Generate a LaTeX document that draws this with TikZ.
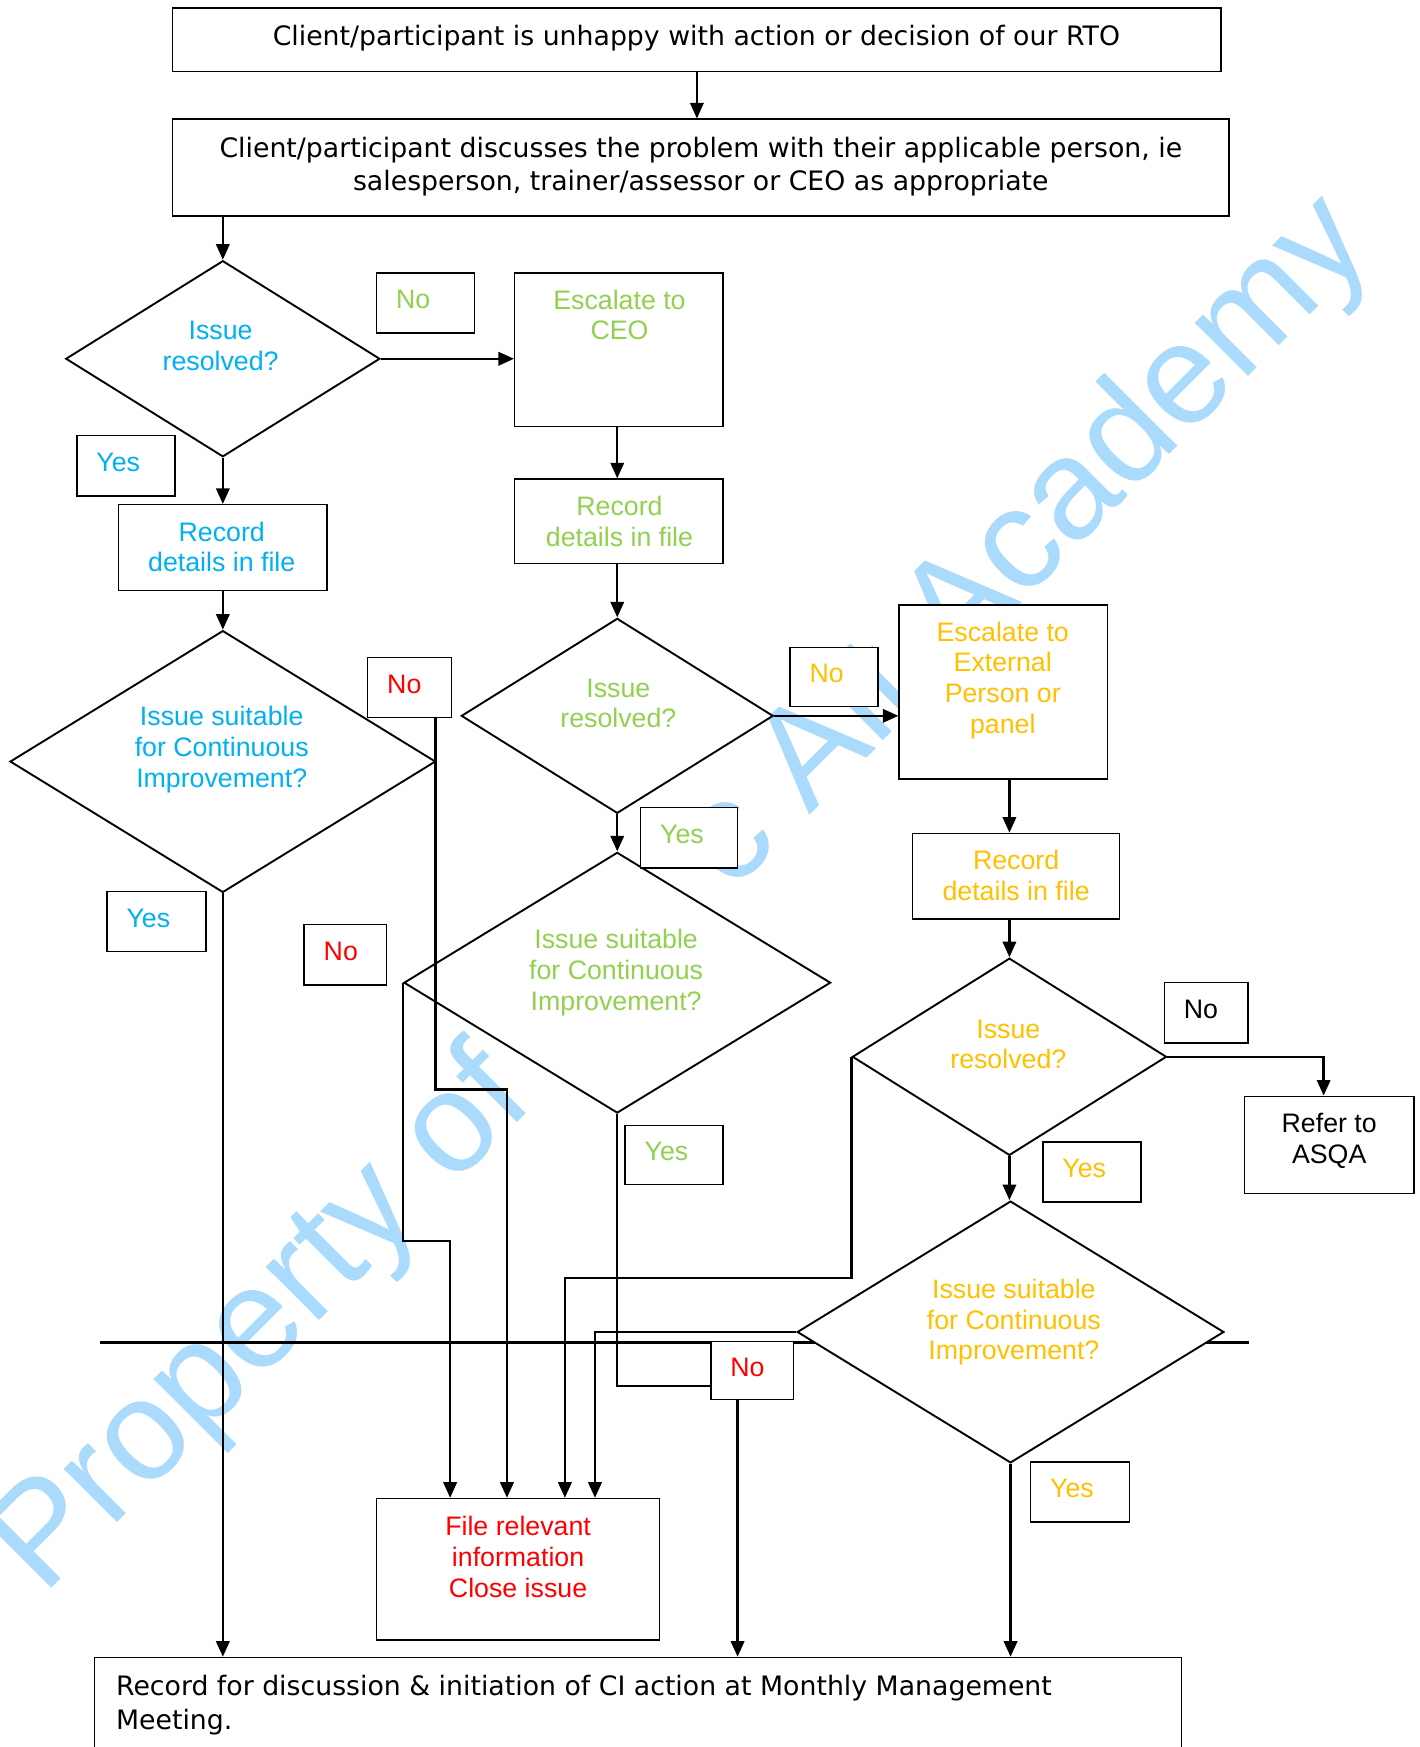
\documentclass[tikz,border=0pt]{standalone}
\usepackage{fontspec}
\usetikzlibrary{shapes.geometric,arrows.meta,calc}
\newfontfamily\verd{DejaVu Sans}
\newfontfamily\ari{Liberation Sans}
\definecolor{cblue}{RGB}{0,176,240}
\definecolor{cgreen}{RGB}{146,208,80}
\definecolor{corange}{RGB}{255,192,0}
\definecolor{cred}{RGB}{255,0,0}
\definecolor{wmc}{RGB}{170,218,252}
\newcommand\bfnt{\verd\fontsize{24}{30}\selectfont}
\newcommand\cfnt{\ari\fontsize{24}{27.5}\selectfont}
\tikzset{
 box/.style={draw=black, line width=1.3pt, fill=white, inner sep=0pt},
 dia/.style={diamond, aspect=1, draw=black, line width=1.7pt, fill=white, inner sep=0pt},
 conn/.style={line width=2.2pt, -{Triangle[width=12pt,length=14pt]}},
 plainc/.style={line width=2.2pt},
 bt/.style={font=\bfnt, inner sep=0pt, align=center, text=black},
 ct/.style={font=\cfnt, inner sep=0pt, align=center},
 lt/.style={font=\cfnt, inner sep=0pt, anchor=west},
 wmk/.style={font=\ari\fontsize{128}{128}\selectfont, text=wmc, inner sep=0pt, anchor=base west, rotate=45},
}
\begin{document}
\begin{tikzpicture}[x=1pt,y=-1pt]
\useasboundingbox (0,0) rectangle (1274,1568);
\clip (0,0) rectangle (1274,1568);
\fill[white] (0,0) rectangle (1274,1568);
% watermark
\node[wmk] (wm1) at (38.7,1433) {Property of};
\node[wmk] (wm2) at (656,802) {c Alt Academy};
% stray line
\draw[line width=2pt] (90,1205) -- (1121,1205);
% boxes
\node[box, minimum width=941pt, minimum height=57pt] (a) at (625.5,35.5) {};
\node[bt, anchor=north] (at) at (625,22.5) {Client/participant is unhappy with action or decision of our RTO};
\node[box, minimum width=948pt, minimum height=87pt] (b) at (629,150.5) {};
\node[bt, anchor=north] (bt) at (629,122.5) {Client/participant discusses the problem with their applicable person, ie\\salesperson, trainer/assessor or CEO as appropriate};
% column 1
\node[dia, minimum width=282pt, minimum height=176pt] (d1) at (200,322) {};
\node[ct, anchor=north, text=cblue] (d1t) at (198,288) {Issue\\resolved?};
\node[box, minimum width=187pt, minimum height=77pt] (r1) at (200,491.5) {};
\node[ct, anchor=north, text=cblue] (r1t) at (199,468) {Record\\details in file};
\node[dia, minimum width=382pt, minimum height=235pt] (d2) at (200,683.5) {};
\node[ct, anchor=north, text=cblue] (d2t) at (199,634) {Issue suitable\\for Continuous\\Improvement?};
% column 2
\node[box, minimum width=187pt, minimum height=138pt] (ceo) at (555.5,314) {};
\node[ct, anchor=north, text=cgreen] (ceot) at (556,260) {Escalate to\\CEO};
\node[box, minimum width=187pt, minimum height=76pt] (r2) at (555.5,468) {};
\node[ct, anchor=north, text=cgreen] (r2t) at (556,445) {Record\\details in file};
\node[dia, minimum width=280pt, minimum height=175pt] (d3) at (554,642.5) {};
\node[ct, anchor=north, text=cgreen] (d3t) at (555,609) {Issue\\resolved?};
\node[dia, minimum width=383pt, minimum height=234pt] (d4) at (554,882) {};
\node[ct, anchor=north, text=cgreen] (d4t) at (553,834) {Issue suitable\\for Continuous\\Improvement?};
% column 3
\node[box, minimum width=187pt, minimum height=156pt] (ext) at (900.5,621) {};
\node[ct, anchor=north, text=corange] (extt) at (900,558) {Escalate to\\External\\Person or\\panel};
\node[box, minimum width=186pt, minimum height=77pt] (r3) at (912,786.5) {};
\node[ct, anchor=north, text=corange] (r3t) at (912,763) {Record\\details in file};
\node[dia, minimum width=282pt, minimum height=177pt] (d5) at (906,948.5) {};
\node[ct, anchor=north, text=corange] (d5t) at (905,915) {Issue\\resolved?};
\node[box, minimum width=152pt, minimum height=87pt] (asqa) at (1193,1027.5) {};
\node[ct, anchor=north, text=black] (asqat) at (1193,999) {Refer to\\ASQA};
\node[dia, minimum width=383pt, minimum height=235pt] (d6) at (907,1195.5) {};
\node[ct, anchor=north, text=corange] (d6t) at (910,1148) {Issue suitable\\for Continuous\\Improvement?};
% end boxes
\node[box, minimum width=254pt, minimum height=127pt] (file) at (465,1408.5) {};
\node[ct, anchor=north, text=cred] (filet) at (465,1361) {File relevant\\information\\Close issue};
\node[box, minimum width=976pt, minimum height=113pt, anchor=north west] (bot) at (84,1487) {};
\node[bt, anchor=north west, align=left] (bott) at (104,1503.5) {Record for discussion \& initiation of CI action at Monthly Management\\Meeting.};
% labels
\node[box, minimum width=88pt, minimum height=54pt] (no1) at (382,272) {};
\node[lt, text=cgreen] (no1t) at ($(no1.west)+(18,-3)$) {No};
\node[box, minimum width=88pt, minimum height=54pt] (yes1) at (113,418) {};
\node[lt, text=cblue] (yes1t) at ($(yes1.west)+(18,-3)$) {Yes};
\node[box, minimum width=75pt, minimum height=54pt] (no2) at (367.5,617) {};
\node[lt, text=cred] (no2t) at ($(no2.west)+(18,-3)$) {No};
\node[box, minimum width=89pt, minimum height=54pt] (yes2) at (140.5,827) {};
\node[lt, text=cblue] (yes2t) at ($(yes2.west)+(18,-3)$) {Yes};
\node[box, minimum width=79pt, minimum height=53pt] (no3) at (748.5,607.5) {};
\node[lt, text=corange] (no3t) at ($(no3.west)+(18,-3)$) {No};
\node[box, minimum width=87pt, minimum height=54pt] (yes3) at (618.5,752) {};
\node[lt, text=cgreen] (yes3t) at ($(yes3.west)+(18,-3)$) {Yes};
\node[box, minimum width=74pt, minimum height=54pt] (no4) at (310,857) {};
\node[lt, text=cred] (no4t) at ($(no4.west)+(18,-3)$) {No};
\node[box, minimum width=88pt, minimum height=53pt] (yes4) at (605,1036.5) {};
\node[lt, text=cgreen] (yes4t) at ($(yes4.west)+(18,-3)$) {Yes};
\node[box, minimum width=75pt, minimum height=54pt] (no5) at (1082.5,909) {};
\node[lt, text=black] (no5t) at ($(no5.west)+(18,-3)$) {No};
\node[box, minimum width=88pt, minimum height=54pt] (yes5) at (980,1052) {};
\node[lt, text=corange] (yes5t) at ($(yes5.west)+(18,-3)$) {Yes};
\node[box, minimum width=89pt, minimum height=54pt] (yes6) at (969.5,1339) {};
\node[lt, text=corange] (yes6t) at ($(yes6.west)+(18,-3)$) {Yes};
\node[box, minimum width=74pt, minimum height=52pt] (no6) at (675,1230) {};
\node[lt, text=cred] (no6t) at ($(no6.west)+(18,-3)$) {No};
% junction coordinates
\coordinate (j1) at (455,978);
\coordinate (j2) at (404,1114);
\coordinate (j3) at (554,1244);
\coordinate (j4) at (507,1147);
\coordinate (j5) at (534,1195.5);
\coordinate (j6) at (662,1256);
\coordinate (j7) at (1188,948.5);
\coordinate (j8) at (906,699);
\coordinate (j9) at (906,825);
\coordinate (j10) at (391,644);
% connectors
\draw[conn] (a.south) -- (a.south |- b.north);
\draw[conn] (d1.north |- b.south) -- (d1.north);
\draw[conn] (d1.east) -- (d1.east -| ceo.west);
\draw[conn] (d3.north |- ceo.south) -- (d3.north |- r2.north);
\draw[conn] (d3.north |- r2.south) -- (d3.north);
\draw[conn] (d3.east) -- (d3.east -| ext.west);
\draw[conn] (j8) -- (j8 |- r3.north);
\draw[conn] (j9) -- (d5.north);
\draw[conn] (d5.east) -- (j7) -- (j7 |- asqa.north);
\draw[conn] (d5.south) -- (d5.south |- d6.north);
\draw[conn] (d6.south) -- (d6.south |- bot.north);
\draw[conn] (d1.south) -- (r1.north);
\draw[conn] (r1.south) -- (d2.north);
\draw[conn] (d2.south) -- (d2.south |- bot.north);
\draw[conn] (d3.south) -- (d4.north);
\draw[conn] (j10) |- (j1) -- (j1 |- file.north);
\draw[conn] (d4.west) |- (j2) -- (j2 |- file.north);
\draw[plainc] (d4.south) -- (j3) -- (j3 -| no6.west);
\draw[conn] (j6) -- (j6 |- bot.north);
\draw[conn] (d5.west) |- (j4) -- (j4 |- file.north);
\draw[conn] (d6.west) -- (j5) -- (j5 |- file.north);
\end{tikzpicture}
\end{document}
